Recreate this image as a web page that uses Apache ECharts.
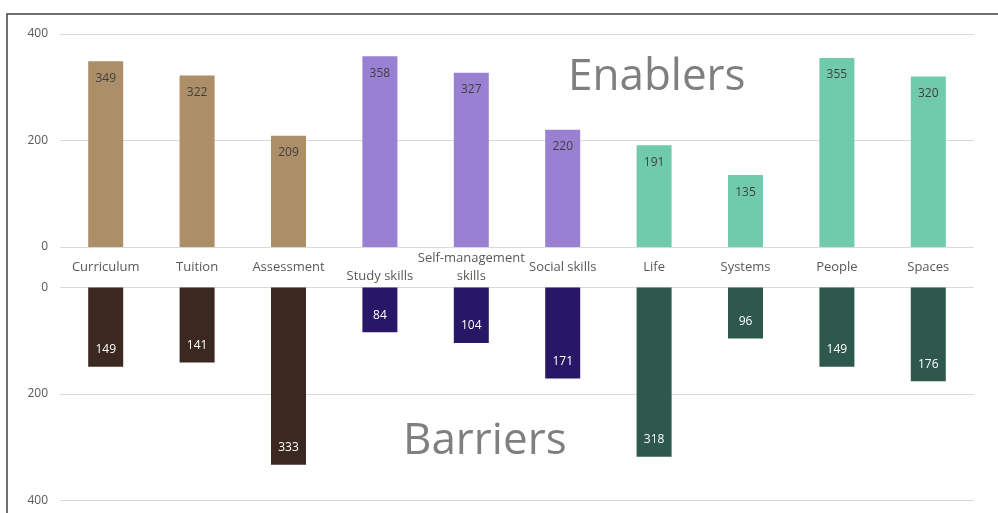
<!DOCTYPE html>
<html>
<head>
<meta charset="utf-8">
<script src="https://cdn.jsdelivr.net/npm/echarts@6/dist/echarts.min.js"></script>
<style>html,body{margin:0;padding:0;background:#fff}#c{width:998px;height:513px}</style>
</head>
<body>
<div id="c"></div>
<script>
const categories = ['Curriculum','Tuition','Assessment','Study skills','Self-management\nskills','Social skills','Life','Systems','People','Spaces'];
const groupOf = [0,0,0,1,1,1,2,2,2,2];
const enablers = [349,322,209,358,327,220,191,135,355,320];
const barriers = [149,141,333,84,104,171,318,96,149,176];
const yTicks = [0,200,400];
const enablerColors = ['#AC8E68','#9A80D2','#6FCBAC'];
const barrierColors = ['#3B2921','#281766','#2E584C'];

const chart = echarts.init(document.getElementById('c'));
const font = '"Open Sans", "Noto Sans", sans-serif';
const yMax = yTicks[yTicks.length-1];
const yInt = yTicks[1]-yTicks[0];

const catData = categories.map(c => c === 'Study skills'
  ? {value: c, textStyle: {verticalAlign: 'top'}} : c);

chart.setOption({
  animation: false,
  grid: [
    {left: 60, right: 24, top: 34, height: 213},
    {left: 60, right: 24, top: 287.5, height: 213}
  ],
  xAxis: [
    {type: 'category', gridIndex: 0, data: catData,
     axisLine: {show: false}, axisTick: {show: false},
     axisLabel: {color: '#595959', fontFamily: font, fontSize: 13, margin: 20,
                 verticalAlign: 'middle', lineHeight: 18, interval: 0}},
    {type: 'category', gridIndex: 1, data: categories, show: false}
  ],
  yAxis: [
    {type: 'value', gridIndex: 0, min: 0, max: yMax, interval: yInt,
     axisLine: {show: false}, axisTick: {show: false},
     axisLabel: {color: '#595959', fontFamily: font, fontSize: 12, margin: 12},
     splitLine: {lineStyle: {color: '#D9D9D9', width: 1}}},
    {type: 'value', gridIndex: 1, min: 0, max: yMax, interval: yInt, inverse: true,
     axisLine: {show: false}, axisTick: {show: false},
     axisLabel: {color: '#595959', fontFamily: font, fontSize: 12, margin: 12},
     splitLine: {lineStyle: {color: '#D9D9D9', width: 1}}}
  ],
  series: [
    {type: 'bar', xAxisIndex: 0, yAxisIndex: 0, barWidth: 35,
     data: enablers.map((v,i) => ({value: v, itemStyle: {color: enablerColors[groupOf[i]]}})),
     label: {show: true, position: 'insideTop', distance: 11, color: '#404040',
             fontFamily: font, fontSize: 12}},
    {type: 'bar', xAxisIndex: 1, yAxisIndex: 1, barWidth: 35,
     data: barriers.map((v,i) => ({value: v, itemStyle: {color: barrierColors[groupOf[i]]}})),
     label: {show: true, position: 'insideBottom', distance: 11, color: '#FFFFFF',
             fontFamily: font, fontSize: 12}}
  ],
  graphic: [
    {type: 'rect', shape: {x: 7, y: 14, width: 1000, height: 520},
     style: {fill: 'none', stroke: '#404040', lineWidth: 1.5}, silent: true},
    {type: 'text', left: 568, top: 55,
     style: {text: 'Enablers', font: '44px "Open Sans", sans-serif', fill: '#7F7F7F'}},
    {type: 'text', left: 403, top: 419,
     style: {text: 'Barriers', font: '44px "Open Sans", sans-serif', fill: '#7F7F7F'}}
  ]
});
</script>
</body>
</html>
